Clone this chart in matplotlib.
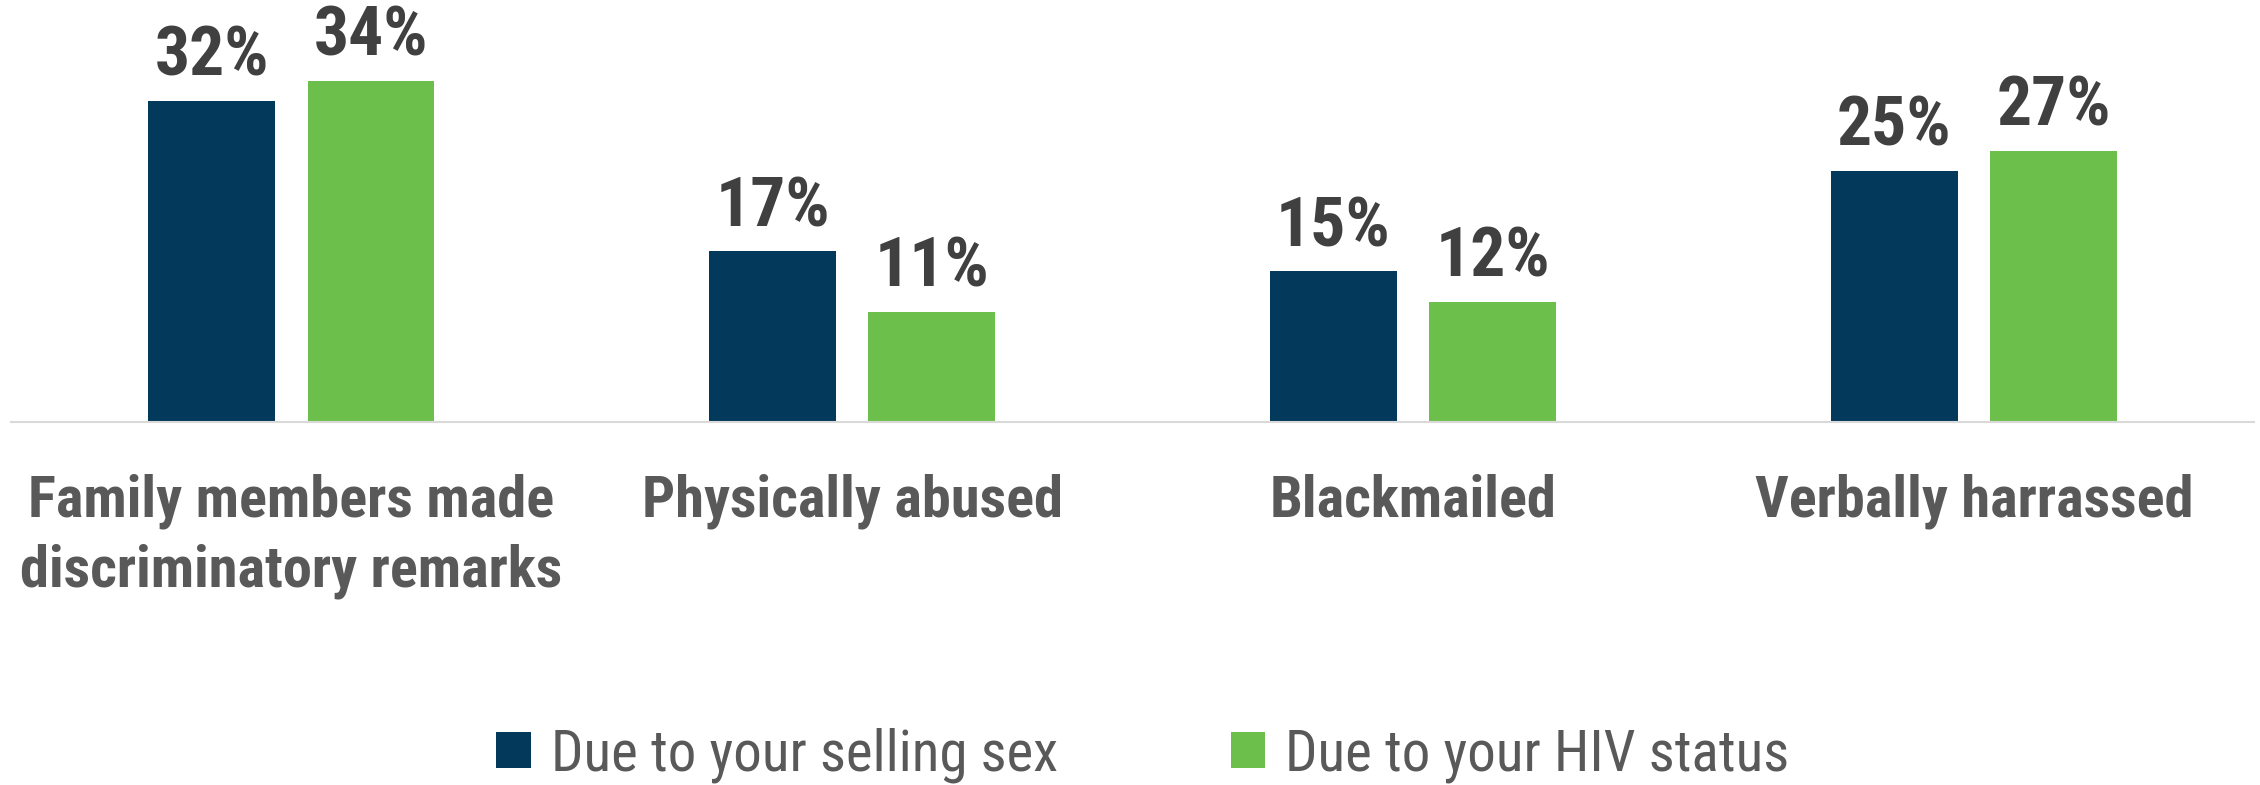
import matplotlib
matplotlib.use('Agg')
import matplotlib.pyplot as plt
import matplotlib.font_manager as fm
import numpy as np

# data
categories = ['Family members made\ndiscriminatory remarks', 'Physically abused',
              'Blackmailed', 'Verbally harrassed']
selling_sex = [32, 17, 15, 25]
hiv_status = [34, 11, 12, 27]
series_names = ['Due to your selling sex', 'Due to your HIV status']

navy = '#033a5c'
green = '#6dbf4b'

names = {f.name for f in fm.fontManager.ttflist}
fam = [n for n in ['Roboto Condensed', 'Liberation Sans Narrow', 'Roboto', 'DejaVu Sans'] if n in names]
plt.rcParams['font.family'] = fam


def main():
    fig = plt.figure(figsize=(22.6, 7.85), dpi=100)
    ax = fig.add_axes([7.5 / 1568, 1 - 293 / 545, (1564 - 7.5) / 1568, 278.8 / 545])

    x = np.arange(len(categories))
    w = 0.226
    off = 0.142
    b1 = ax.bar(x - off, selling_sex, w, color=navy, label=series_names[0])
    b2 = ax.bar(x + off, hiv_status, w, color=green, label=series_names[1])

    for bars in (b1, b2):
        for r in bars:
            ax.annotate('%d%%' % r.get_height(), (r.get_x() + r.get_width() / 2, r.get_height()),
                        xytext=(0, 8), textcoords='offset points', ha='center', va='bottom',
                        fontsize=50, fontweight='bold', color='#404040')

    ax.set_xlim(-0.5, 3.5)
    ax.set_ylim(0, 40)
    ax.set_yticks([])
    for s in ['top', 'left', 'right']:
        ax.spines[s].set_visible(False)
    ax.spines['bottom'].set_color('#d9d9d9')
    ax.spines['bottom'].set_linewidth(1.5)
    ax.set_xticks(x)
    ax.set_xticklabels(categories, fontsize=42, fontweight='bold', color='#595959', linespacing=1.34)
    ax.tick_params(axis='x', length=0, pad=37)

    fig.legend(handles=[b1, b2], loc='center', bbox_to_anchor=(793 / 1568, 1 - 524 / 545),
               ncol=2, frameon=False, fontsize=41, handlelength=0.6, handleheight=0.6,
               handletextpad=0.35, columnspacing=3.05, labelcolor='#595959')

    fig.savefig('out.png', dpi=100)


if __name__ == '__main__':
    main()
